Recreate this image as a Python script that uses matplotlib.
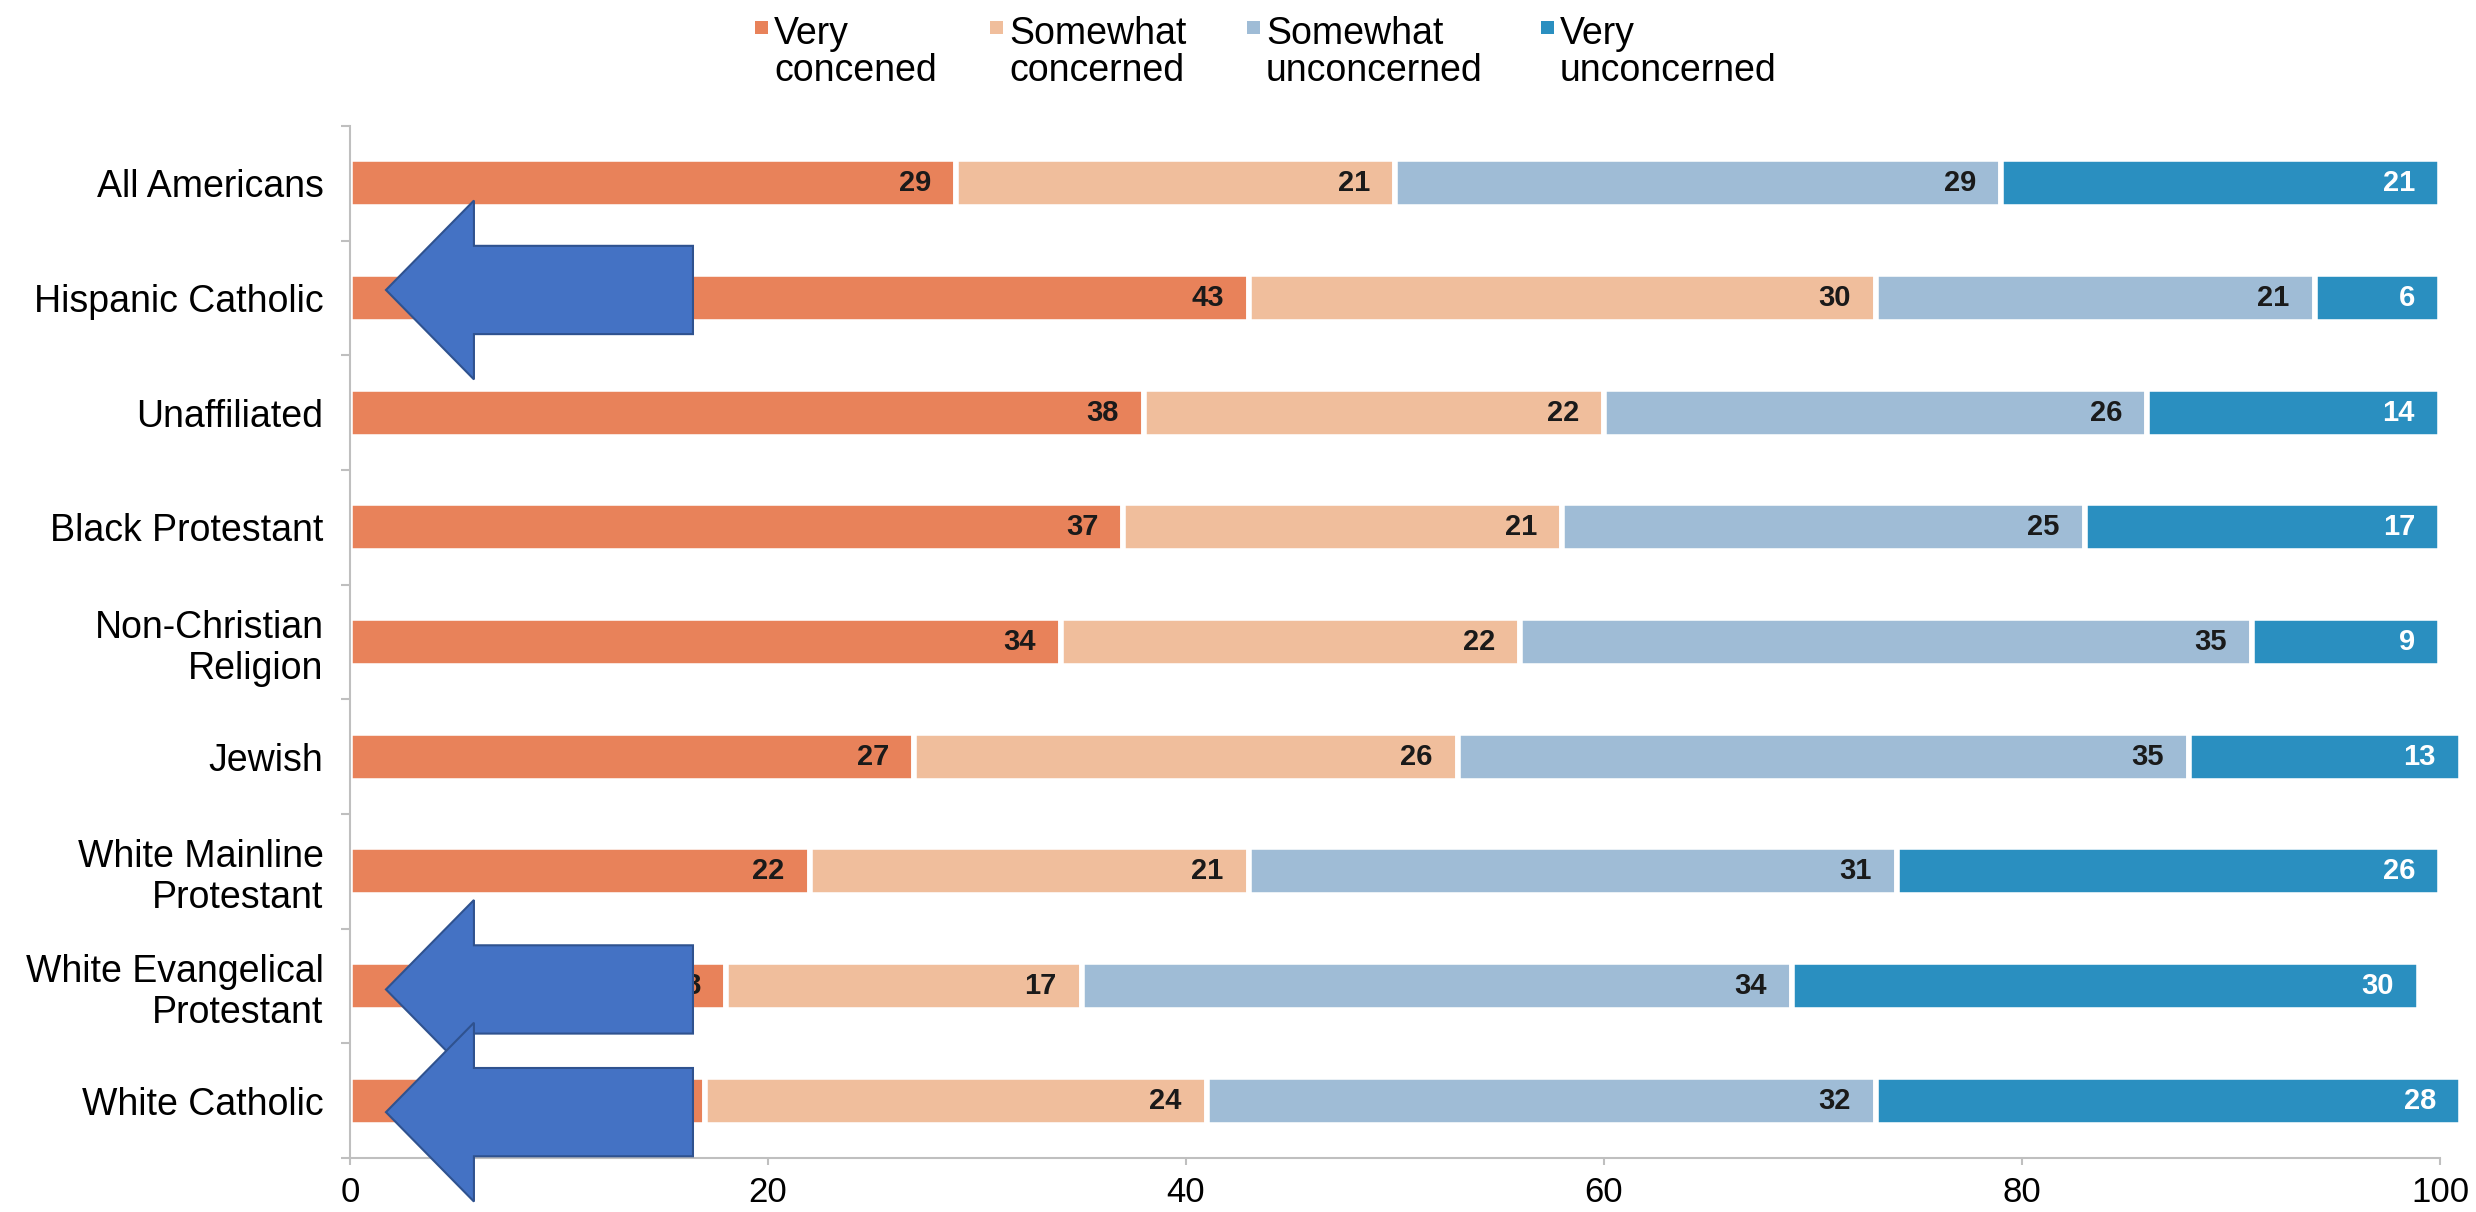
import matplotlib
matplotlib.use("Agg")
import matplotlib.pyplot as plt
from matplotlib.patches import Polygon, Rectangle

plt.rcParams['font.family'] = ['Liberation Sans', 'DejaVu Sans']

# survey shares (percent), top row first
groups = ["All Americans", "Hispanic Catholic", "Unaffiliated", "Black Protestant",
          "Non-Christian\nReligion", "Jewish", "White Mainline\nProtestant",
          "White Evangelical\nProtestant", "White Catholic"]
very_concerned = [29, 43, 38, 37, 34, 27, 22, 18, 17]
somewhat_concerned = [21, 30, 22, 21, 22, 26, 21, 17, 24]
somewhat_unconcerned = [29, 21, 26, 25, 35, 35, 31, 34, 32]
very_unconcerned = [21, 6, 14, 17, 9, 13, 26, 30, 28]

series_names = ["Very\nconcened", "Somewhat\nconcerned", "Somewhat\nunconcerned", "Very\nunconcerned"]
colors = ["#E8825A", "#F0BE9C", "#9FBCD6", "#2A8FC0"]
label_colors = ["#1a1a1a", "#1a1a1a", "#1a1a1a", "white"]

# rows that get a pointer arrow
arrow_rows = [1, 7, 8]
arrow_offsets = [-0.07, 0.03, 0.10]

W, H = 2476, 1212


def main():
    fig = plt.figure(figsize=(W / 100, H / 100), dpi=100)
    ax = fig.add_axes([350 / W, 1 - 1158 / H, 2090 / W, 1032 / H])

    ys = list(range(len(groups)))
    left = [0] * len(groups)
    for vals, col, lc in zip([very_concerned, somewhat_concerned, somewhat_unconcerned, very_unconcerned],
                             colors, label_colors):
        bars = ax.barh(ys, vals, left=left, height=0.42, color=col,
                       edgecolor="white", linewidth=4, clip_on=False)
        for b, v in zip(bars, vals):
            ax.text(b.get_x() + b.get_width() - 1.2, b.get_y() + b.get_height() / 2, str(v),
                    ha="right", va="center", fontsize=21, fontweight="bold", color=lc)
        left = [l + v for l, v in zip(left, vals)]

    ax.set_ylim(len(groups) - 0.5, -0.5)
    ax.set_xlim(0, 100)
    ax.set_yticks(ys)
    ax.set_yticklabels(groups, fontsize=27, linespacing=1.18)
    ax.set_yticks([y - 0.5 for y in range(len(groups) + 1)], minor=True)
    ax.tick_params(axis="y", which="major", length=0, pad=19)
    ax.tick_params(axis="y", which="minor", length=6.5, color="#BFBFBF", width=1.5)
    ax.set_xticks(range(0, 101, 20))
    ax.tick_params(axis="x", length=5, color="#BFBFBF", width=1.5, labelsize=25, pad=8)
    for s in ["top", "right"]:
        ax.spines[s].set_visible(False)
    for s in ["left", "bottom"]:
        ax.spines[s].set_color("#BFBFBF")
        ax.spines[s].set_linewidth(1.5)

    # blue pointer arrows
    for r, off in zip(arrow_rows, arrow_offsets):
        yc = r + off
        pts = [(1.72, yc), (5.93, yc - 0.78), (5.93, yc - 0.385), (16.41, yc - 0.385),
               (16.41, yc + 0.385), (5.93, yc + 0.385), (5.93, yc + 0.78)]
        ax.add_patch(Polygon(pts, closed=True, facecolor="#4472C4", edgecolor="#2F528F",
                             linewidth=1.5, zorder=5, clip_on=False))

    # legend
    xs_marker = [755, 990, 1247, 1541]
    for xm, name, col in zip(xs_marker, series_names, colors):
        fig.patches.append(Rectangle((xm / W, 1 - 34 / H), 13 / W, 13 / H,
                                     transform=fig.transFigure, facecolor=col, edgecolor="none"))
        fig.text((xm + 19) / W, 1 - 16 / H, name, ha="left", va="top",
                 fontsize=27, linespacing=1.04)

    fig.savefig("out.png", dpi=100, facecolor="white")


if __name__ == "__main__":
    main()
